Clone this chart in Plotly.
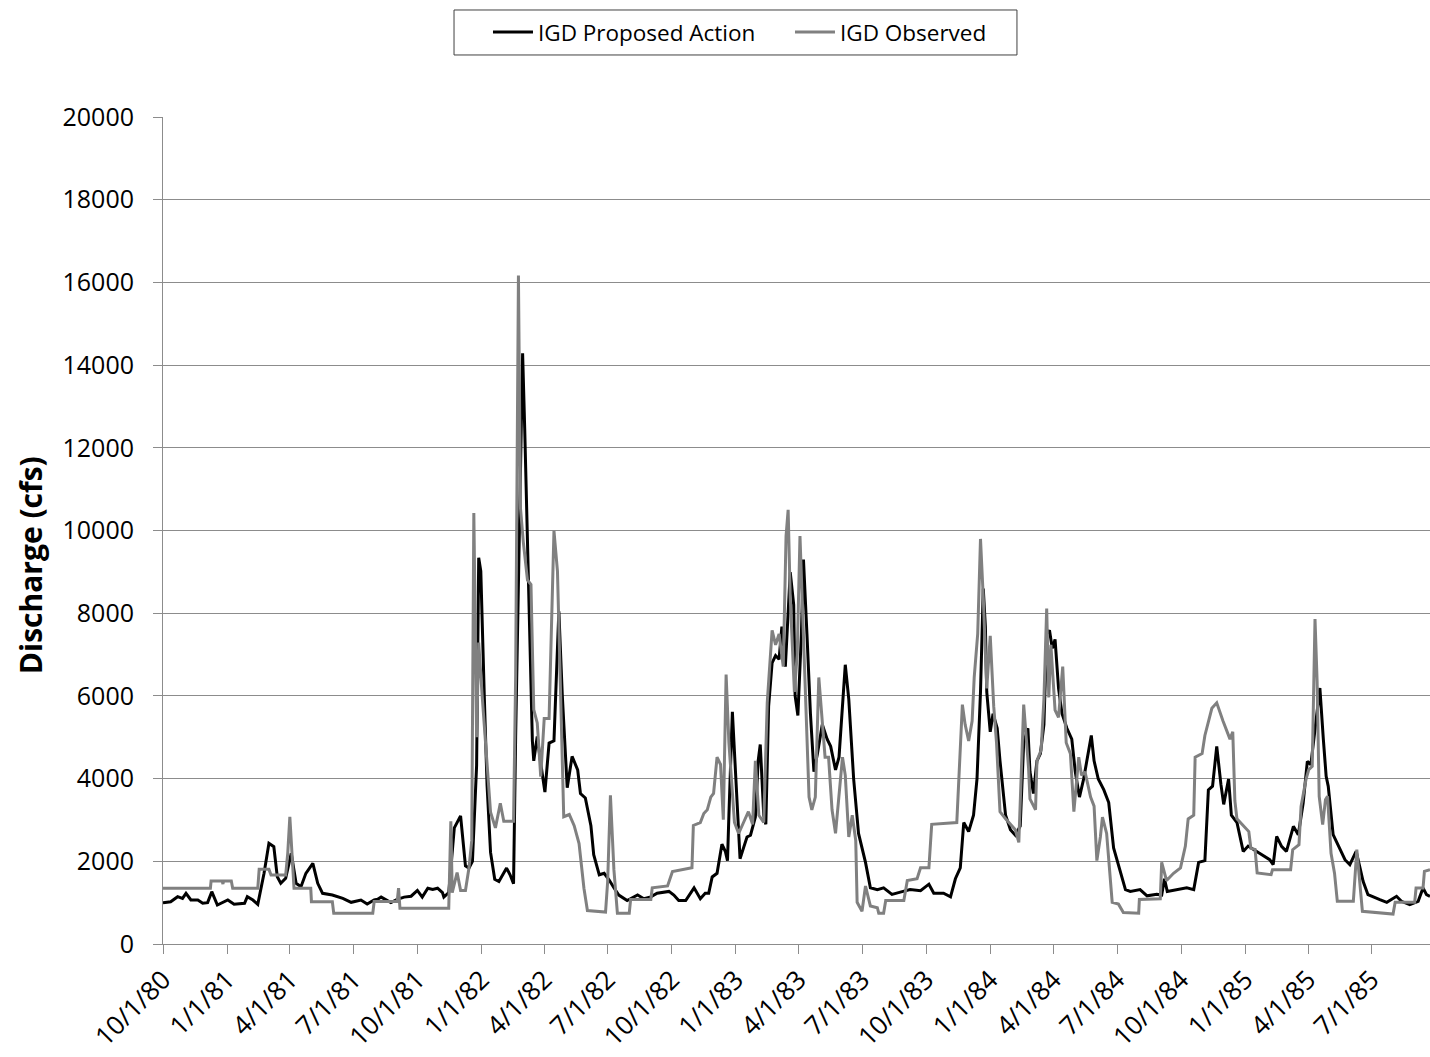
import plotly.graph_objects as go
import pandas as pd

START = pd.Timestamp("1980-10-01")

# Days since 10/1/80 and discharge (cfs)
proposed_day = [0, 11, 21, 28, 33, 40, 50, 57, 64, 70, 78, 93, 102, 117, 121, 129, 136, 145, 152, 159, 164, 169, 176, 184, 191, 198, 205, 215, 222, 229, 243, 258, 270, 284, 293, 303, 308, 313, 327, 336, 346, 356, 365, 372, 380, 387, 394, 401, 403, 410, 418, 427, 434, 439, 444, 450, 453, 456, 461, 465, 470, 476, 482, 487, 493, 498, 503, 506, 512, 516, 519, 523, 527, 530, 532, 537, 542, 548, 554, 561, 568, 573, 580, 587, 595, 599, 606, 614, 618, 626, 633, 640, 647, 654, 666, 681, 690, 700, 709, 726, 733, 740, 750, 762, 771, 778, 783, 788, 795, 802, 807, 810, 812, 817, 822, 828, 833, 838, 843, 850, 854, 857, 862, 865, 869, 874, 879, 884, 888, 893, 900, 905, 907, 911, 916, 919, 924, 929, 934, 939, 946, 953, 958, 965, 970, 975, 979, 984, 991, 998, 1008, 1015, 1025, 1034, 1046, 1058, 1072, 1087, 1099, 1106, 1120, 1130, 1137, 1144, 1149, 1156, 1163, 1168, 1173, 1177, 1180, 1182, 1187, 1191, 1197, 1201, 1209, 1216, 1223, 1230, 1235, 1241, 1244, 1249, 1254, 1259, 1264, 1268, 1272, 1276, 1280, 1285, 1290, 1297, 1304, 1309, 1315, 1321, 1327, 1332, 1336, 1342, 1350, 1357, 1364, 1371, 1381, 1388, 1402, 1412, 1426, 1433, 1437, 1441, 1455, 1469, 1479, 1486, 1495, 1500, 1506, 1512, 1518, 1522, 1529, 1533, 1541, 1550, 1557, 1569, 1579, 1588, 1593, 1598, 1605, 1612, 1622, 1629, 1636, 1642, 1647, 1651, 1655, 1660, 1665, 1669, 1672, 1676, 1679, 1687, 1696, 1703, 1712, 1717, 1722, 1729, 1739, 1746, 1756, 1763, 1770, 1777, 1789, 1801, 1808, 1813, 1818]
proposed_cfs = [1000, 1023, 1144, 1104, 1226, 1064, 1064, 984, 1000, 1265, 943, 1064, 960, 984, 1144, 1064, 960, 1709, 2435, 2354, 1628, 1467, 1588, 2193, 1467, 1386, 1709, 1951, 1467, 1226, 1185, 1104, 1008, 1064, 968, 1064, 1080, 1134, 1004, 1080, 1134, 1156, 1296, 1134, 1350, 1318, 1350, 1242, 1134, 1242, 2808, 3100, 1890, 1836, 1998, 4320, 9342, 9018, 5994, 3834, 2214, 1566, 1512, 1674, 1836, 1674, 1458, 5000, 10962, 14288, 12474, 9774, 7074, 4914, 4428, 5022, 4374, 3672, 4860, 4914, 8046, 5994, 3780, 4536, 4212, 3640, 3532, 2862, 2160, 1674, 1710, 1552, 1359, 1184, 1052, 1184, 1096, 1140, 1228, 1272, 1184, 1052, 1052, 1359, 1096, 1228, 1228, 1622, 1710, 2412, 2236, 2017, 3113, 5613, 3990, 2061, 2324, 2587, 2631, 3070, 4429, 4824, 3113, 2894, 5745, 6797, 6972, 6885, 7674, 6709, 8990, 8200, 6008, 5525, 7498, 9296, 7498, 5569, 4166, 4600, 5306, 4955, 4780, 4210, 4517, 5744, 6753, 5920, 3990, 2675, 1973, 1359, 1315, 1359, 1201, 1254, 1315, 1289, 1447, 1228, 1228, 1140, 1578, 1842, 2938, 2719, 3113, 3990, 6095, 8595, 7674, 6095, 5130, 5569, 5218, 4429, 3113, 2763, 2631, 2850, 4868, 5218, 4166, 3640, 4429, 4605, 5306, 7498, 7586, 7148, 7367, 6183, 5569, 5218, 4955, 4166, 3552, 3990, 4604, 5043, 4429, 3990, 3727, 3420, 2324, 1885, 1315, 1272, 1315, 1166, 1201, 1184, 1579, 1272, 1315, 1359, 1315, 1973, 2017, 3727, 3815, 4780, 3859, 3376, 3990, 3113, 2938, 2236, 2368, 2241, 2120, 2039, 1918, 2603, 2362, 2241, 2845, 2644, 3409, 4417, 4336, 4941, 5586, 6190, 4941, 4054, 3813, 3168, 2644, 2362, 2039, 1918, 2241, 1885, 1515, 1193, 1112, 1072, 1007, 1072, 1153, 1032, 951, 1032, 1354, 1193, 1153]

observed_day = [0, 68, 69, 85, 86, 87, 98, 100, 136, 138, 152, 155, 176, 179, 182, 186, 188, 212, 213, 243, 245, 301, 303, 336, 338, 340, 410, 413, 415, 422, 427, 434, 439, 443, 446, 450, 453, 458, 465, 470, 477, 484, 489, 503, 506, 510, 513, 517, 523, 528, 532, 537, 542, 547, 554, 561, 566, 572, 575, 583, 590, 597, 604, 609, 635, 638, 642, 647, 652, 669, 671, 700, 702, 724, 731, 759, 761, 771, 776, 781, 786, 790, 795, 800, 804, 808, 812, 820, 826, 833, 840, 846, 850, 855, 862, 867, 874, 879, 884, 890, 894, 897, 900, 906, 910, 914, 919, 927, 931, 936, 941, 947, 950, 955, 960, 965, 970, 975, 979, 984, 989, 994, 996, 1003, 1008, 1015, 1025, 1027, 1034, 1037, 1063, 1068, 1082, 1087, 1099, 1103, 1139, 1147, 1151, 1156, 1161, 1164, 1169, 1173, 1177, 1182, 1187, 1192, 1196, 1201, 1209, 1216, 1223, 1228, 1235, 1242, 1244, 1252, 1254, 1260, 1264, 1268, 1271, 1274, 1280, 1285, 1291, 1296, 1302, 1307, 1314, 1318, 1323, 1331, 1336, 1340, 1345, 1348, 1354, 1362, 1371, 1378, 1400, 1401, 1431, 1433, 1440, 1450, 1460, 1467, 1471, 1479, 1481, 1491, 1495, 1505, 1512, 1521, 1531, 1535, 1538, 1541, 1558, 1561, 1567, 1570, 1590, 1592, 1618, 1621, 1630, 1633, 1640, 1644, 1649, 1653, 1656, 1659, 1664, 1668, 1671, 1676, 1681, 1685, 1708, 1713, 1717, 1721, 1765, 1768, 1796, 1798, 1808, 1810, 1818]
observed_cfs = [1346, 1346, 1523, 1523, 1450, 1523, 1523, 1346, 1346, 1805, 1805, 1668, 1668, 2200, 3078, 2000, 1346, 1346, 1023, 1023, 742, 742, 1026, 1026, 1350, 864, 864, 2970, 1242, 1728, 1296, 1296, 1836, 2500, 10422, 5000, 7290, 5994, 4374, 3186, 2808, 3402, 2970, 2970, 6480, 16168, 10530, 9720, 8802, 8694, 5670, 5346, 4050, 5454, 5454, 9990, 9018, 4590, 3078, 3132, 2862, 2430, 1350, 810, 772, 1500, 3596, 1798, 745, 745, 1079, 1079, 1359, 1403, 1754, 1842, 2868, 2938, 3157, 3245, 3552, 3640, 4517, 4341, 3008, 6516, 4868, 2938, 2675, 2938, 3201, 2894, 4429, 3113, 2938, 5832, 7586, 7235, 7498, 6709, 9866, 10498, 8376, 6095, 7000, 9866, 7498, 3552, 3245, 3552, 6446, 5218, 4517, 4517, 3245, 2675, 3552, 4517, 4078, 2587, 3113, 2500, 1009, 789, 1403, 921, 877, 745, 745, 1052, 1052, 1535, 1579, 1842, 1842, 2894, 2938, 5788, 5306, 4911, 5394, 6446, 7498, 9796, 8376, 6183, 7455, 5745, 4868, 3201, 3026, 2894, 2763, 2456, 5788, 4254, 3508, 3245, 4429, 4692, 5920, 8112, 5964, 7235, 5657, 5481, 6709, 4868, 4604, 3201, 4517, 4078, 4166, 3552, 3333, 2017, 2587, 3070, 2675, 1009, 964, 763, 745, 1079, 1096, 1973, 1535, 1710, 1842, 2368, 3026, 3113, 4517, 4604, 5043, 5700, 5832, 5394, 4955, 5130, 3464, 3026, 2719, 2313, 2289, 1717, 1676, 1797, 1797, 2281, 2402, 3329, 3974, 4216, 4296, 7859, 6367, 3571, 2886, 3490, 3571, 2192, 1712, 1032, 1032, 2281, 1555, 790, 725, 1007, 1007, 1354, 1354, 1757, 1797]

tick_dates = ["1980-10-01", "1981-01-01", "1981-04-01", "1981-07-01", "1981-10-01",
              "1982-01-01", "1982-04-01", "1982-07-01", "1982-10-01", "1983-01-01",
              "1983-04-01", "1983-07-01", "1983-10-01", "1984-01-01", "1984-04-01",
              "1984-07-01", "1984-10-01", "1985-01-01", "1985-04-01", "1985-07-01"]
tick_labels = ["10/1/80", "1/1/81", "4/1/81", "7/1/81", "10/1/81", "1/1/82", "4/1/82",
               "7/1/82", "10/1/82", "1/1/83", "4/1/83", "7/1/83", "10/1/83", "1/1/84",
               "4/1/84", "7/1/84", "10/1/84", "1/1/85", "4/1/85", "7/1/85"]

FONT = "Open Sans, Lato, sans-serif"
AXIS_GRAY = "#8c8c8c"

prop_dates = [START + pd.Timedelta(days=d) for d in proposed_day]
obs_dates = [START + pd.Timedelta(days=d) for d in observed_day]
end_date = START + pd.Timedelta(days=max(proposed_day))

fig = go.Figure()
fig.add_trace(go.Scatter(x=prop_dates, y=proposed_cfs, mode="lines",
                         name="IGD Proposed Action",
                         line=dict(color="#000000", width=3)))
fig.add_trace(go.Scatter(x=obs_dates, y=observed_cfs, mode="lines",
                         name="IGD Observed",
                         line=dict(color="#808080", width=3)))

fig.update_layout(
    width=1430, height=1057,
    margin=dict(l=163, r=0, t=117, b=113),
    paper_bgcolor="white", plot_bgcolor="white",
    font=dict(family=FONT, color="#000000"),
    showlegend=True,
    legend=dict(orientation="h", x=0.2565, xanchor="left", y=1.1022, yanchor="middle",
                borderwidth=0, bgcolor="rgba(0,0,0,0)",
                font=dict(size=22.5, family=FONT), itemwidth=40,
                entrywidth=247, entrywidthmode="pixels"),
    xaxis=dict(type="date", range=[START, end_date],
               tickmode="array", tickvals=tick_dates, ticktext=tick_labels,
               tickangle=-45, tickfont=dict(size=26, family=FONT),
               ticks="outside", ticklen=9, tickcolor=AXIS_GRAY,
               showline=True, linecolor=AXIS_GRAY, linewidth=1,
               showgrid=False, zeroline=False),
    yaxis=dict(range=[0, 20000], dtick=2000, tick0=0, tickformat="d",
               tickfont=dict(size=25, family=FONT),
               ticks="outside", ticklen=9, tickcolor=AXIS_GRAY,
               showline=True, linecolor=AXIS_GRAY, linewidth=1,
               showgrid=True, gridcolor=AXIS_GRAY, gridwidth=1,
               zeroline=False, ticklabelstandoff=14),
)

# legend frame (as in the reference)
fig.add_shape(type="rect", xref="paper", yref="paper",
              x0=0.2297, x1=0.6740, y0=1.0750, y1=1.1294,
              line=dict(color="#404040", width=1), fillcolor="rgba(0,0,0,0)")

fig.add_annotation(text="<b>Discharge (cfs)</b>", xref="paper", yref="paper",
                   x=-0.105, y=0.458, xanchor="center", yanchor="middle",
                   textangle=-90, showarrow=False,
                   font=dict(size=30, family=FONT, color="#000000"))

fig.write_html("out.html", config={"displayModeBar": False},
               post_script="document.body.style.margin='0';")
